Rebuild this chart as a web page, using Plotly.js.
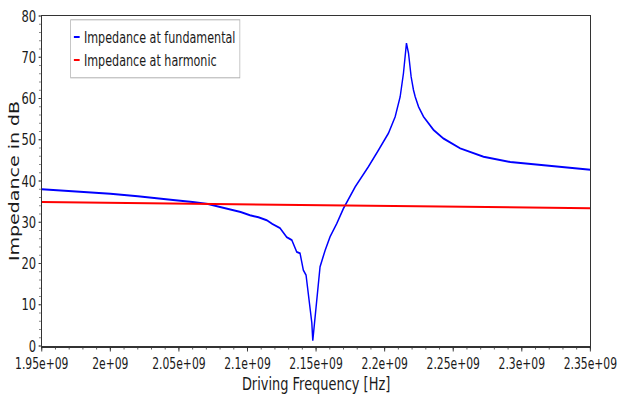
<!DOCTYPE html>
<html>
<head>
<meta charset="utf-8">
<script src="https://cdn.plot.ly/plotly-3.0.1.min.js"></script>
<style>
html,body{margin:0;padding:0;background:#fff;overflow:hidden;}
#wrap{width:617px;height:394px;overflow:hidden;}
#chart{width:857px;height:394px;transform:scaleX(0.72);transform-origin:0 0;}
</style>
</head>
<body>
<div id="wrap"><div id="chart"></div></div>
<script>
// Fundamental impedance (Hz, dB)
const fundFreq = [1.95e9,1.97e9,2.0e9,2.02e9,2.04e9,2.0457e9,2.06e9,2.0712e9,2.08e9,2.0894e9,2.095e9,2.1018e9,2.108e9,2.114e9,2.118e9,2.1237e9,2.1286e9,2.1323e9,2.1359e9,2.1383e9,2.1407e9,2.1427e9,2.1451e9,2.1469e9,2.1476e9,2.1493e9,2.151e9,2.1529e9,2.1566e9,2.1602e9,2.1651e9,2.1699e9,2.1785e9,2.1882e9,2.1955e9,2.2028e9,2.2077e9,2.2113e9,2.2137e9,2.215e9,2.2159e9,2.2174e9,2.2193e9,2.221e9,2.2223e9,2.2247e9,2.2283e9,2.2356e9,2.2429e9,2.2551e9,2.2721e9,2.2916e9,2.3135e9,2.333e9,2.35e9];
const fundDb   = [38.0,37.6,36.9,36.3,35.7,35.4,34.9,34.4,33.7,32.9,32.5,31.7,31.2,30.5,29.6,28.6,26.4,25.7,22.8,22.5,18.4,17.2,11.1,5.6,1.3,7.1,13.6,19.2,23.2,26.5,29.7,33.3,38.6,43.5,47.5,51.6,55.6,60.4,66.1,71.0,73.4,71.0,65.3,62.1,60.4,58.0,55.6,52.4,50.3,47.9,45.9,44.6,43.9,43.2,42.7];
// Harmonic impedance (Hz, dB)
const harmFreq = [1.95e9,2.0e9,2.05e9,2.1e9,2.15e9,2.2e9,2.25e9,2.3e9,2.35e9];
const harmDb   = [34.9,34.7,34.5,34.3,34.1,33.9,33.7,33.55,33.4];
// Axis ticks
const xTickVals = [1.95e9,2.0e9,2.05e9,2.1e9,2.15e9,2.2e9,2.25e9,2.3e9,2.35e9];
const xTickText = ["1.95e+09","2e+09","2.05e+09","2.1e+09","2.15e+09","2.2e+09","2.25e+09","2.3e+09","2.35e+09"];
const yTickVals = [0,10,20,30,40,50,60,70,80];

const FONT = '"DejaVu Sans", Verdana, sans-serif';
const TXT = '#1a1a1a';

const traces = [
  {x: fundFreq, y: fundDb, type: 'scatter', mode: 'lines', name: 'Impedance at fundamental',
   line: {color: '#0000ff', width: 2}},
  {x: harmFreq, y: harmDb, type: 'scatter', mode: 'lines', name: 'Impedance at harmonic',
   line: {color: '#ff0000', width: 2}}
];

const layout = {
  width: 857, height: 394,
  margin: {l: 58, r: 37, t: 16, b: 48},
  paper_bgcolor: '#fff', plot_bgcolor: '#fff',
  font: {family: FONT, size: 15, color: TXT},
  showlegend: true,
  legend: {x: 0.052, y: 0.99, xanchor: 'left', yanchor: 'top',
    bordercolor: '#b0b0b0', borderwidth: 1, bgcolor: '#fff',
    font: {family: FONT, size: 15.5, color: TXT}, itemwidth: 30, tracegroupgap: 0},
  xaxis: {
    range: [1.95e9, 2.35e9 + 1e4], tickvals: xTickVals, ticktext: xTickText, tickangle: 0,
    ticklabeloverflow: 'allow',
    showgrid: false, zeroline: false, showline: true, linecolor: '#333', linewidth: 1.5,
    mirror: true, ticks: 'outside', ticklen: 4, tickcolor: '#222',
    minor: {dtick: 1e7, ticks: 'outside', ticklen: 2, tickcolor: '#444', showgrid: false},
    tickfont: {family: FONT, size: 15, color: TXT},
    title: {text: 'Driving Frequency [Hz]', font: {family: FONT, size: 18, color: TXT}, standoff: 2}
  },
  yaxis: {
    range: [0, 80], tickvals: yTickVals,
    showgrid: false, zeroline: false, showline: true, linecolor: '#333', linewidth: 1.5,
    mirror: true, ticks: 'outside', ticklen: 3, tickcolor: '#222', ticklabelstandoff: 0,
    minor: {dtick: 2, ticks: 'outside', ticklen: 2, tickcolor: '#444', showgrid: false},
    tickfont: {family: FONT, size: 16, color: TXT},
    title: {text: 'Impedance in dB', font: {family: FONT, size: 19, color: TXT}, standoff: 2}
  }
};

Plotly.newPlot('chart', traces, layout, {displayModeBar: false, staticPlot: true}).then(function(gd){
  // Shorten legend line samples to small dashes like the reference
  const shrink = 22;
  gd.querySelectorAll('.legend .traces').forEach(function(tr){
    tr.querySelectorAll('path.js-line').forEach(function(p){ p.setAttribute('d', 'M4,0h8'); });
    tr.querySelectorAll('text.legendtext').forEach(function(t){
      t.setAttribute('x', String(parseFloat(t.getAttribute('x')) - shrink));
    });
  });
  gd.querySelectorAll('.legend rect.bg').forEach(function(r){
    r.setAttribute('width', String(parseFloat(r.getAttribute('width')) - shrink));
  });
  // Nudge the y-axis title slightly closer to its tick labels
  const yt = gd.querySelector('.g-ytitle');
  if (yt) yt.setAttribute('transform', 'translate(5,0)');
});
</script>
</body>
</html>
